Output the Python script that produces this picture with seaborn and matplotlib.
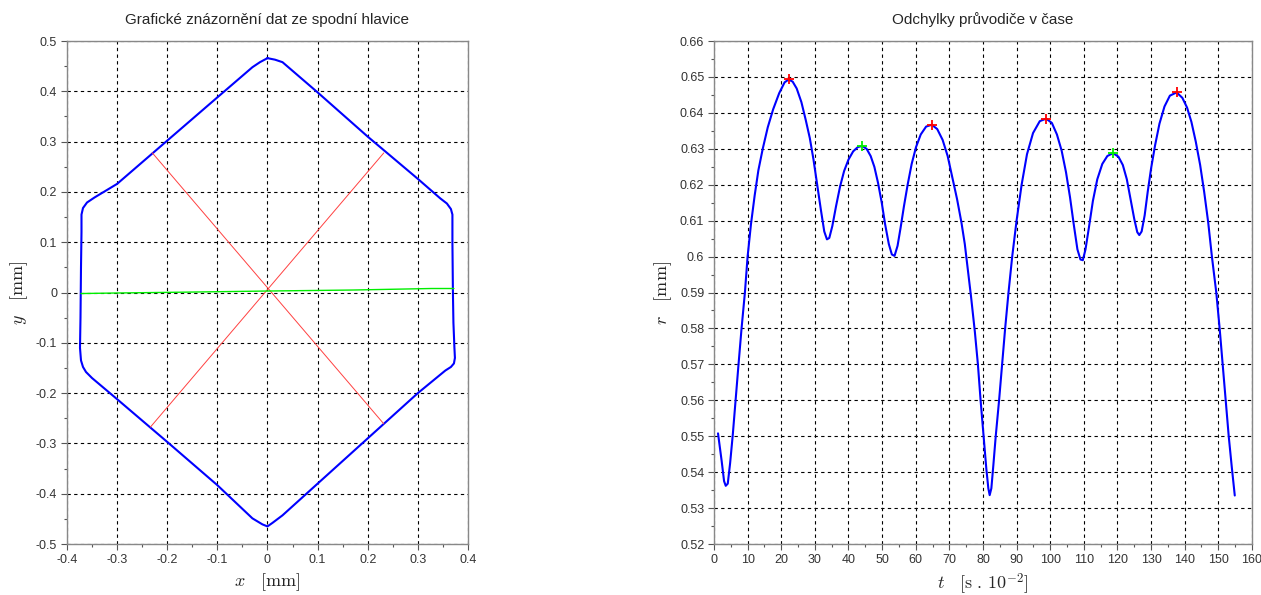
import matplotlib
matplotlib.use("Agg")
import matplotlib.pyplot as plt
from matplotlib.ticker import MultipleLocator, AutoMinorLocator, FuncFormatter
import seaborn as sns
import pandas as pd

# obrys hlavice (modra)
hex_x = [0.000, 0.015, 0.030, 0.100, 0.200, 0.300, 0.345, 0.358, 0.366, 0.369, 0.369, 0.370,
         0.371, 0.373, 0.374, 0.372, 0.366, 0.355, 0.300, 0.200, 0.100, 0.030, 0.010, 0.000,
         -0.010, -0.030, -0.100, -0.200, -0.300, -0.350, -0.362, -0.368, -0.372, -0.374, -0.373,
         -0.372, -0.371, -0.371, -0.368, -0.360, -0.345, -0.300, -0.200, -0.100, -0.030, -0.015, 0.000]
hex_y = [0.466, 0.463, 0.458, 0.398, 0.310, 0.226, 0.187, 0.177, 0.166, 0.155, 0.100, 0.000,
         -0.060, -0.110, -0.130, -0.141, -0.148, -0.155, -0.200, -0.290, -0.380, -0.443, -0.458, -0.465,
         -0.461, -0.449, -0.383, -0.297, -0.212, -0.170, -0.158, -0.148, -0.135, -0.110, -0.050,
         0.050, 0.120, 0.155, 0.168, 0.179, 0.189, 0.216, 0.302, 0.388, 0.448, 0.458, 0.466]

# uhlopricky (cervene)
diag1_x = [-0.230, 0.232]
diag1_y = [0.278, -0.261]
diag2_x = [-0.2335, 0.232]
diag2_y = [-0.2675, 0.2775]

# vodorovna osa (zelena)
green_x = [-0.372, -0.305, -0.146, 0.0, 0.171, 0.327, 0.372]
green_y = [-0.002, -0.001, 0.001, 0.003, 0.005, 0.008, 0.008]

# odchylky pruvodice
t_vals = [1.2, 2.3, 3.0, 3.5, 4.1, 4.8, 5.6, 6.5, 7.3, 8.2, 9.2, 10.0, 11.0, 12.1, 13.2, 14.5,
          16.0, 17.6, 19.4, 21.0, 22.2, 23.4, 24.6, 26.0, 27.3, 28.5, 29.6, 30.7, 31.8, 32.8,
          33.6, 34.3, 35.2, 36.3, 37.5, 38.7, 40.0, 41.4, 42.8, 44.1, 45.4, 46.6, 47.7, 48.8,
          49.9, 50.9, 52.0, 52.9, 53.7, 54.6, 55.5, 56.5, 57.6, 58.8, 60.1, 61.5, 63.1, 64.8,
          66.4, 68.0, 69.5, 70.9, 72.3, 73.6, 74.6, 75.5, 76.5, 77.6, 78.5, 79.3, 80.2, 81.0, 81.6,
          82.0, 82.5, 83.1, 83.8, 84.8, 85.7, 86.6, 87.6, 88.7, 90.0, 91.5, 93.1, 94.9, 96.9,
          98.8, 100.5, 102.0, 103.4, 104.7, 105.9, 107.0, 108.1, 109.0, 109.7, 110.5, 111.5,
          112.7, 114.0, 115.5, 117.0, 118.7, 120.3, 121.6, 122.8, 123.9, 125.0, 125.9, 126.5,
          127.2, 128.1, 129.0, 130.0, 131.2, 132.5, 134.0, 135.6, 137.6, 139.3, 140.7, 142.0,
          143.3, 144.6, 145.8, 147.0, 148.1, 149.4, 150.4, 151.3, 152.2, 153.1, 154.0, 154.9]
r_vals = [0.5508, 0.5430, 0.5375, 0.5362, 0.5368, 0.5425, 0.5505, 0.5610, 0.5700, 0.5800, 0.5900,
          0.6000, 0.6090, 0.6170, 0.6240, 0.6300, 0.6360, 0.6410, 0.6455, 0.6485, 0.6493, 0.6487,
          0.6468, 0.6430, 0.6380, 0.6330, 0.6270, 0.6200, 0.6130, 0.6070, 0.6048, 0.6052, 0.6085,
          0.6140, 0.6195, 0.6238, 0.6270, 0.6293, 0.6305, 0.6308, 0.6300, 0.6280, 0.6250, 0.6205,
          0.6150, 0.6090, 0.6035, 0.6006, 0.6002, 0.6030, 0.6080, 0.6140, 0.6200, 0.6258, 0.6305,
          0.6340, 0.6362, 0.6367, 0.6355, 0.6325, 0.6280, 0.6220, 0.6160, 0.6095, 0.6035, 0.5965,
          0.5885, 0.5790, 0.5700, 0.5600, 0.5500, 0.5410, 0.5355, 0.5336, 0.5355, 0.5420, 0.5500,
          0.5600, 0.5700, 0.5800, 0.5900, 0.6000, 0.6100, 0.6200, 0.6285, 0.6344, 0.6377, 0.6384,
          0.6372, 0.6340, 0.6295, 0.6235, 0.6165, 0.6090, 0.6020, 0.5992, 0.5990, 0.6020, 0.6080,
          0.6155, 0.6215, 0.6258, 0.6280, 0.6288, 0.6278, 0.6255, 0.6215, 0.6160, 0.6105, 0.6068,
          0.6060, 0.6070, 0.6115, 0.6180, 0.6245, 0.6310, 0.6370, 0.6418, 0.6448, 0.6457, 0.6442,
          0.6415, 0.6375, 0.6320, 0.6255, 0.6180, 0.6095, 0.6000, 0.5900, 0.5800, 0.5700, 0.5600,
          0.5500, 0.5415, 0.5335]

# extremy
max_t = [22.2, 64.8, 98.8, 137.6]
max_r = [0.6493, 0.6367, 0.6384, 0.6457]
min_t = [44.1, 118.7]
min_r = [0.6308, 0.6288]

sns.set_style("ticks")
plt.rcParams['font.family'] = ['Liberation Sans', 'DejaVu Sans']
plt.rcParams['mathtext.fontset'] = 'cm'

fig = plt.figure(figsize=(12.61, 5.95), dpi=100)
ax1 = fig.add_axes([0.0531, 0.0857, 0.3180, 0.8453])
ax2 = fig.add_axes([0.5662, 0.0857, 0.4266, 0.8453])

hex_df = pd.DataFrame({"x": hex_x, "y": hex_y})
sns.lineplot(data=hex_df, x="x", y="y", sort=False, estimator=None, color="#0000ff", linewidth=1.5, ax=ax1)
sns.lineplot(x=diag1_x, y=diag1_y, sort=False, estimator=None, color="#ff4040", linewidth=0.7, ax=ax1)
sns.lineplot(x=diag2_x, y=diag2_y, sort=False, estimator=None, color="#ff4040", linewidth=0.7, ax=ax1)
sns.lineplot(x=green_x, y=green_y, sort=False, estimator=None, color="#00ee00", linewidth=1.0, ax=ax1)

curve_df = pd.DataFrame({"t": t_vals, "r": r_vals})
sns.lineplot(data=curve_df, x="t", y="r", sort=False, estimator=None, color="#0000ff", linewidth=1.5, ax=ax2)
ax2.plot(max_t, max_r, linestyle="none", marker="+", color="#ff0000", markersize=7, markeredgewidth=1.3)
ax2.plot(min_t, min_r, linestyle="none", marker="+", color="#00ee00", markersize=7, markeredgewidth=1.3)

fmt = FuncFormatter(lambda v, p: "%g" % round(v, 6))

ax1.set_xlim(-0.4, 0.4)
ax1.set_ylim(-0.5, 0.5)
ax1.xaxis.set_major_locator(MultipleLocator(0.1))
ax1.yaxis.set_major_locator(MultipleLocator(0.1))

ax2.set_xlim(0, 160)
ax2.set_ylim(0.52, 0.66)
ax2.xaxis.set_major_locator(MultipleLocator(10))
ax2.yaxis.set_major_locator(MultipleLocator(0.01))

for ax in (ax1, ax2):
    ax.xaxis.set_major_formatter(fmt)
    ax.yaxis.set_major_formatter(fmt)
    ax.xaxis.set_minor_locator(AutoMinorLocator(2))
    ax.yaxis.set_minor_locator(AutoMinorLocator(2))
    ax.grid(True, which="major", color="black", linestyle=(0, (3, 3)), linewidth=0.8)
    ax.tick_params(which="major", direction="out", length=4, width=0.8, color="#555555",
                   labelsize=9, labelcolor="#333333", pad=3)
    ax.tick_params(which="minor", direction="out", length=2, width=0.8, color="#555555")
    for s in ax.spines.values():
        s.set_visible(True)
        s.set_color("#888888")
        s.set_linewidth(1.0)
    ax.set_axisbelow(True)

ax1.set_title("Grafické znázornění dat ze spodní hlavice", fontsize=11, pad=12)
ax1.set_xlabel(r"$x\quad[\mathrm{mm}]$", fontsize=13, labelpad=4)
ax1.set_ylabel(r"$y\quad[\mathrm{mm}]$", fontsize=13, labelpad=4)

ax2.set_title("Odchylky průvodiče v čase", fontsize=11, pad=12)
ax2.set_xlabel(r"$t\quad[\mathrm{s}\ .\,10^{-2}]$", fontsize=13, labelpad=4)
ax2.set_ylabel(r"$r\quad[\mathrm{mm}]$", fontsize=13, labelpad=4)

fig.savefig("out.png", dpi=100, facecolor="white")
